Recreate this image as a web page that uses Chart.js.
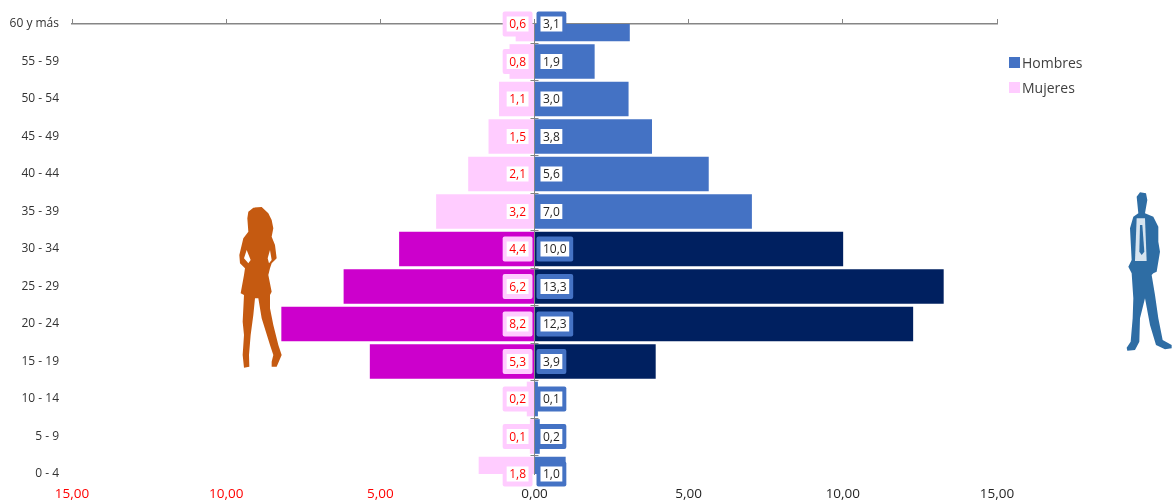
<!DOCTYPE html>
<html lang="es">
<head>
<meta charset="utf-8">
<title>Pirámide de edades</title>
<script src="https://cdn.jsdelivr.net/npm/chart.js@4"></script>
<style>
  html, body { margin: 0; padding: 0; background: #fff; overflow: hidden; }
  #wrap { position: relative; width: 1173px; height: 502px; }
  #chart { position: absolute; left: 0; top: 0; }
  .figure { position: absolute; left: 0; top: 0; pointer-events: none; }
</style>
</head>
<body>
<div id="wrap">
  <canvas id="chart" width="1173" height="502"></canvas>
  <!-- siluetas -->
  <svg class="figure" width="1173" height="502">
    <g transform="translate(220,195) scale(0.3333)">
      <path fill="#C55A11" fill-rule="evenodd" d="M100,38 L125,36 145,55 155,75 160,100 155,125 165,150 170,190 165,195 155,205 150,220 145,240 155,290 150,300 150,340 160,390 175,450 185,480 170,515 155,515 155,500 160,480 150,450 125,370 115,310 105,310 100,360 92,420 87,480 88,515 72,518 68,480 72,420 68,380 72,300 62,295 72,240 75,220 60,205 58,180 70,130 85,110 82,70 85,50 Z M80,165 L72,190 85,205 92,195 Z M150,165 L155,195 147,205 143,190 Z"/>
    </g>
    <g transform="translate(1090,185) scale(0.3333)">
      <path fill="#2E6DA4" d="M140,35 L150,22 168,25 172,45 165,85 190,95 205,125 205,170 210,200 200,260 190,265 185,270 195,330 205,400 218,465 245,480 245,490 225,493 198,480 180,420 165,340 150,400 148,470 135,495 112,497 110,488 122,470 128,400 130,340 125,265 115,245 125,225 120,130 130,95 145,85 Z"/>
      <path fill="#D6E4F0" d="M140,100 L165,100 170,228 135,228 Z"/>
      <path fill="#2E6DA4" d="M150,120 L157,120 163,200 155,210 148,200 Z"/>
    </g>
  </svg>
</div>
<script>
const categories = ['60 y más', '55 - 59', '50 - 54', '45 - 49', '40 - 44', '35 - 39', '30 - 34', '25 - 29', '20 - 24', '15 - 19', '10 - 14', '5 - 9', '0 - 4'];
const hombres = [3.08, 1.94, 3.04, 3.8, 5.64, 7.04, 10.0, 13.26, 12.27, 3.92, 0.1, 0.16, 1.0];
const mujeres = [0.6, 0.8, 1.14, 1.48, 2.14, 3.18, 4.38, 6.18, 8.2, 5.33, 0.24, 0.14, 1.8];
const edadesFertiles = ['30 - 34', '25 - 29', '20 - 24', '15 - 19'];

const AZUL = '#4472C4', AZUL_OSCURO = '#002060', ROSA = '#FFCCFF', MAGENTA = '#CC00CC';
const GRIS = '#868686';
const FUENTE = '"Open Sans", sans-serif';

function coma(n, dec) { return n.toFixed(dec).replace('.', ','); }

// etiquetas con caja junto al eje y leyenda
const etiquetasPlugin = {
  id: 'etiquetas',
  afterDatasetsDraw(chart) {
    const { ctx, scales } = chart;
    const cero = scales.x.getPixelForValue(0);
    ctx.save();
    // marcas del eje vertical, cruzan el eje
    ctx.strokeStyle = GRIS;
    ctx.lineWidth = 1;
    categories.forEach((c, i) => {
      if (i === categories.length - 1) return;
      const y = Math.round(scales.y.getPixelForValue(i + 0.5)) + 0.5;
      ctx.beginPath();
      ctx.moveTo(cero - 4, y);
      ctx.lineTo(cero + 4, y);
      ctx.stroke();
    });
    ctx.font = '12px ' + FUENTE;
    ctx.textBaseline = 'middle';
    ctx.textAlign = 'center';
    categories.forEach((c, i) => {
      const y = scales.y.getPixelForValue(i);
      caja(ctx, cero + 2, y, coma(hombres[i], 1), AZUL, '#262626', 1);
      caja(ctx, cero - 2, y, coma(mujeres[i], 1), ROSA, '#FF0000', -1);
    });
    // leyenda
    ctx.textAlign = 'left';
    ctx.font = '14px ' + FUENTE;
    chart.data.datasets.forEach((ds, i) => {
      const y = 63 + i * 25;
      ctx.fillStyle = i === 0 ? AZUL : ROSA;
      ctx.fillRect(1009, y - 6, 11, 11);
      ctx.fillStyle = '#404040';
      ctx.fillText(ds.label, 1022, y + 1);
    });
    ctx.restore();
  }
};

function caja(ctx, x, y, texto, borde, color, lado) {
  const anchoTexto = ctx.measureText(texto).width;
  const blanco = anchoTexto + 5;
  const total = blanco + 8;
  const izq = lado > 0 ? x : x - total;
  ctx.fillStyle = borde;
  ctx.beginPath();
  ctx.roundRect(izq, y - 12.5, total, 25, 2);
  ctx.fill();
  ctx.fillStyle = '#fff';
  ctx.fillRect(izq + 4, y - 7.5, blanco, 15);
  ctx.fillStyle = color;
  ctx.fillText(texto, izq + total / 2, y + 1);
}

new Chart(document.getElementById('chart'), {
  type: 'bar',
  data: {
    labels: categories,
    datasets: [
      {
        label: 'Hombres',
        data: hombres,
        backgroundColor: categories.map(c => edadesFertiles.includes(c) ? AZUL_OSCURO : AZUL),
        barThickness: 34
      },
      {
        label: 'Mujeres',
        data: mujeres.map(v => -v),
        backgroundColor: categories.map(c => edadesFertiles.includes(c) ? MAGENTA : ROSA),
        barThickness: 34
      }
    ]
  },
  options: {
    indexAxis: 'y',
    responsive: false,
    animation: false,
    layout: { padding: { left: 0, right: 176, top: 0, bottom: 0 } },
    plugins: { legend: { display: false }, tooltip: { enabled: false } },
    scales: {
      x: {
        type: 'linear',
        position: 'bottom',
        stacked: true,
        min: -15,
        max: 15,
        grid: { display: false },
        border: { display: false },
        ticks: {
          stepSize: 5,
          maxRotation: 0,
          padding: 4,
          font: { family: FUENTE, size: 13.5 },
          color: ctx => ctx.tick.value < 0 ? '#FF0000' : '#262626',
          callback: v => coma(Math.abs(v), 2)
        },
        afterFit(scale) { scale.height = 28; }
      },
      x2: {
        type: 'linear',
        position: 'top',
        min: -15,
        max: 15,
        grid: { drawOnChartArea: false, color: GRIS, tickLength: 5 },
        border: { color: GRIS, width: 1.5 },
        ticks: { stepSize: 5, display: false },
        afterFit(scale) { scale.height = 24; }
      },
      y: {
        type: 'category',
        position: 'left',
        stacked: true,
        offset: false,
        grid: { display: false },
        border: { display: false },
        ticks: {
          autoSkip: false,
          padding: 5,
          font: { family: FUENTE, size: 12 },
          color: '#333333'
        },
        afterFit(scale) { scale.width = 72; }
      },
      y2: {
        type: 'category',
        position: { x: 0 },
        offset: false,
        grid: { display: false },
        border: { color: GRIS, width: 1, z: 1 },
        ticks: { display: false }
      }
    }
  },
  plugins: [etiquetasPlugin]
});
</script>
</body>
</html>
